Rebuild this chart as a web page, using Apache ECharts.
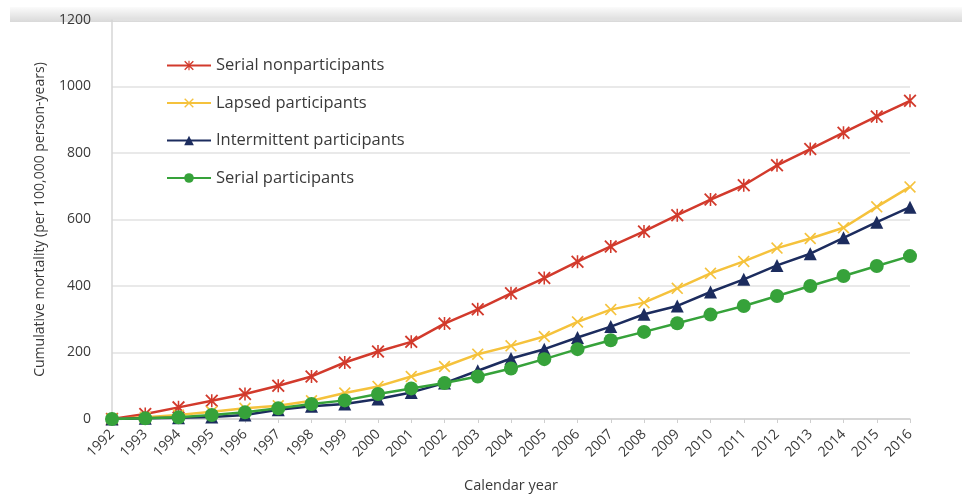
<!DOCTYPE html>
<html>
<head>
<meta charset="utf-8">
<script src="https://cdn.jsdelivr.net/npm/echarts@6/dist/echarts.min.js"></script>
<style>
  html, body { margin: 0; padding: 0; background: #fff; }
  #chart { width: 965px; height: 498px; }
</style>
</head>
<body>
<div id="chart"></div>
<script>
// Calendar years on the x axis
const years = ['1992','1993','1994','1995','1996','1997','1998','1999','2000','2001','2002','2003',
  '2004','2005','2006','2007','2008','2009','2010','2011','2012','2013','2014','2015','2016'];

// Cumulative mortality per 100,000 person-years
const serialNonparticipants = [0, 15, 35, 55, 75, 100, 128, 170, 203, 232, 287, 330,
  378, 424, 473, 519, 564, 613, 660, 703, 763, 812, 861, 910, 957];
const lapsedParticipants = [0, 5, 12, 22, 32, 40, 55, 78, 98, 128, 158, 195,
  220, 248, 292, 329, 350, 393, 438, 474, 514, 543, 575, 638, 698];
const intermittentParticipants = [0, 2, 4, 6, 12, 28, 38, 45, 60, 80, 108, 145,
  182, 210, 245, 278, 315, 340, 382, 420, 462, 497, 545, 592, 637];
const serialParticipants = [0, 2, 5, 12, 20, 32, 45, 56, 75, 92, 108, 128,
  152, 180, 210, 237, 262, 288, 314, 340, 370, 400, 430, 460, 490];

const yTicks = { min: 0, max: 1200, interval: 200 };

// Marker shapes: a cross and an asterisk (cross with vertical bar)
const crossPath = 'path://M0,1 L1,0 L5,4 L9,0 L10,1 L6,5 L10,9 L9,10 L5,6 L1,10 L0,9 L4,5 Z';
const starPath = 'path://M0,1 L1,0 L5,4 L9,0 L10,1 L6,5 L10,9 L9,10 L5,6 L1,10 L0,9 L4,5 Z M4.4,0 L5.6,0 L5.6,10 L4.4,10 Z';

const textColor = '#3a3a3a';

function lineSeries(name, data, color, symbol, size) {
  return {
    name: name,
    type: 'line',
    data: data,
    symbol: symbol,
    symbolSize: size,
    showAllSymbol: true,
    lineStyle: { color: color, width: 2.5 },
    itemStyle: { color: color },
    emphasis: { disabled: true },
    z: 3
  };
}

const chart = echarts.init(document.getElementById('chart'), null, { renderer: 'canvas' });
chart.setOption({
  animation: false,
  backgroundColor: '#ffffff',
  graphic: [{
    type: 'rect',
    shape: { x: 10, y: 7, width: 952, height: 15 },
    style: {
      fill: new echarts.graphic.LinearGradient(0, 0, 0, 1, [
        { offset: 0, color: '#fbfbfb' },
        { offset: 1, color: '#d9d9d9' }
      ])
    },
    z: -10
  }],
  grid: { left: 112, right: 55, top: 20, bottom: 76 },
  legend: {
    orient: 'vertical',
    left: 161,
    top: 52,
    itemWidth: 44,
    itemHeight: 12,
    itemGap: 20.5,
    textStyle: { fontFamily: 'Open Sans', fontSize: 16.5, color: textColor },
    data: ['Serial nonparticipants', 'Lapsed participants', 'Intermittent participants', 'Serial participants']
  },
  xAxis: {
    type: 'category',
    data: years,
    boundaryGap: false,
    name: 'Calendar year',
    nameLocation: 'middle',
    nameGap: 59,
    nameTextStyle: { fontFamily: 'Open Sans', fontSize: 14.5, color: textColor },
    axisLine: { lineStyle: { color: '#cfcfcf', width: 1.5 } },
    axisTick: { show: true, lineStyle: { color: '#cfcfcf' }, length: 4, alignWithLabel: true },
    axisLabel: { rotate: 45, fontFamily: 'Open Sans', fontSize: 14, color: textColor, margin: 13 },
    splitLine: { show: false }
  },
  yAxis: {
    type: 'value',
    min: yTicks.min,
    max: yTicks.max,
    interval: yTicks.interval,
    name: 'Cumulative mortality (per 100,000 person-years)',
    nameLocation: 'middle',
    nameGap: 65,
    nameTextStyle: { fontFamily: 'Open Sans', fontSize: 14, color: textColor },
    axisLine: { show: true, lineStyle: { color: '#d6d6d6', width: 1.5 } },
    axisTick: { show: false },
    axisLabel: {
      fontFamily: 'Open Sans', fontSize: 14, color: textColor, margin: 21,
      formatter: function (v) { return String(v); }
    },
    splitLine: { lineStyle: { color: '#e2e2e2', width: 1.5 } }
  },
  series: [
    lineSeries('Serial nonparticipants', serialNonparticipants, '#d23a2c', starPath, 13),
    lineSeries('Lapsed participants', lapsedParticipants, '#f5c23c', crossPath, 12),
    lineSeries('Intermittent participants', intermittentParticipants, '#1c2c5e', 'triangle', 13),
    lineSeries('Serial participants', serialParticipants, '#36a23a', 'circle', 14)
  ]
});
</script>
</body>
</html>
